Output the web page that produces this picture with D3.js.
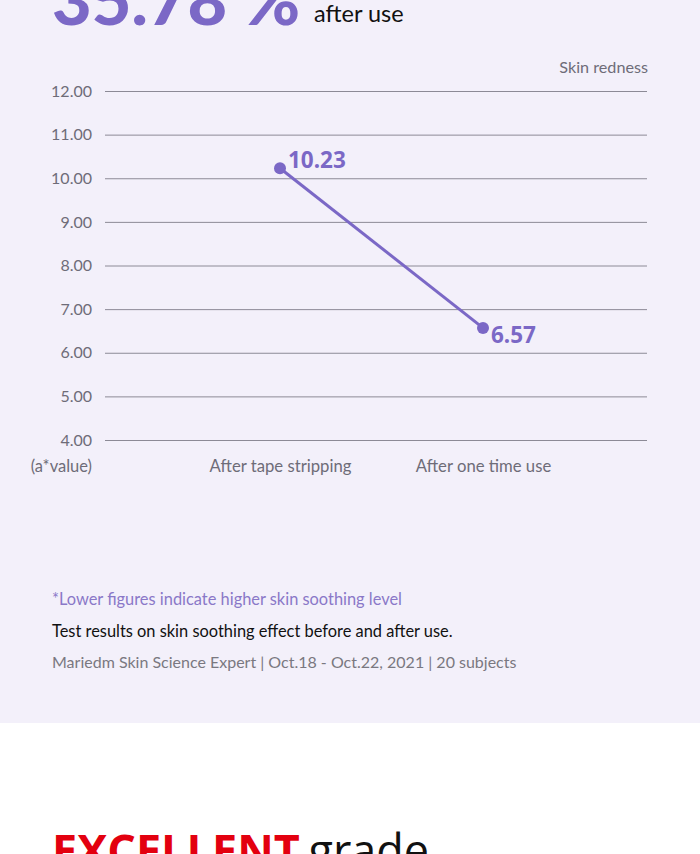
<!DOCTYPE html>
<html>
<head>
<meta charset="utf-8">
<script src="https://cdn.jsdelivr.net/npm/d3@7"></script>
<style>
  html, body { margin: 0; padding: 0; background: #fff; }
  body { width: 700px; height: 854px; overflow: hidden; }
</style>
</head>
<body>
<div id="chart"></div>
<script>
/* skin redness line chart */
const categories = ["After tape stripping", "After one time use"]
const rednessValues = [10.23, 6.57]
const yTicks = [4, 5, 6, 7, 8, 9, 10, 11, 12]
const headline = "35.78 %"
const notes = [
  "*Lower figures indicate higher skin soothing level",
  "Test results on skin soothing effect before and after use.",
  "Mariedm Skin Science Expert | Oct.18 - Oct.22, 2021 | 20 subjects"
]

const width = 700
const height = 854
const marginLeft = 105      // gridline start
const marginRight = 53      // gridline end = width - marginRight
const yTop = 91             // y of 12.00
const yBottom = 440         // y of 4.00
const purple = "#7b68c6"
const gray = "#6e6c78"
const font = "Lato, 'Noto Sans', sans-serif"

const svg = d3.select("#chart")
  .append("svg")
  .attr("width", width)
  .attr("height", height)
  .attr("viewBox", [0, 0, width, height])
  .style("display", "block")

// 背景
svg.append("rect").attr("width", width).attr("height", 723).attr("fill", "#f3f0fa")

// 标题 (cut off at the top)
svg.append("text")
  .attr("x", 52).attr("y", 25)
  .attr("fill", purple)
  .attr("font-family", font)
  .attr("font-weight", 900)
  .attr("font-size", 66)
  .attr("textLength", 248)
  .attr("lengthAdjust", "spacingAndGlyphs")
  .text(headline)
svg.append("text")
  .attr("x", 314).attr("y", 22)
  .attr("fill", "#111")
  .attr("font-family", font)
  .attr("font-size", 23.5)
  .text("after use")

const xScale = d3.scalePoint(categories, [280, 483])
const yScale = d3.scaleLinear([4, 12], [yBottom, yTop])

// Y轴 + gridlines
const yAxis = d3.axisLeft(yScale)
  .tickValues(yTicks)
  .tickFormat(d3.format(".2f"))
  .tickSize(-(width - marginLeft - marginRight))
  .tickPadding(13)

svg.append("g")
  .attr("transform", `translate(${marginLeft},0)`)
  .call(yAxis)
  .call(g => g.select(".domain").remove())
  .call(g => g.selectAll(".tick line").attr("stroke", "#8c8a96").attr("stroke-width", 1))
  .call(g => g.selectAll(".tick text")
    .attr("fill", gray)
    .attr("font-family", font)
    .attr("font-size", 16))

// X轴 labels
const xAxis = d3.axisBottom(xScale).tickSize(0).tickPadding(0)
svg.append("g")
  .attr("transform", `translate(0,${yBottom + 20})`)
  .call(xAxis)
  .call(g => g.select(".domain").remove())
  .call(g => g.selectAll(".tick text")
    .attr("fill", gray)
    .attr("font-family", font)
    .attr("font-size", 16.7))

svg.append("text")
  .attr("x", 92).attr("y", 472)
  .attr("text-anchor", "end")
  .attr("fill", gray)
  .attr("font-family", font)
  .attr("font-size", 16.5)
  .text("(a*value)")

svg.append("text")
  .attr("x", 648).attr("y", 73)
  .attr("text-anchor", "end")
  .attr("fill", gray)
  .attr("font-family", font)
  .attr("font-size", 16.2)
  .text("Skin redness")

// 数据
const points = categories.map((c, i) => [c, rednessValues[i]])
const line = d3.line().x(d => xScale(d[0])).y(d => yScale(d[1]))

svg.append("path")
  .datum(points)
  .attr("fill", "none")
  .attr("stroke", purple)
  .attr("stroke-width", 3)
  .attr("d", line)

svg.append("g").selectAll("circle").data(points).enter()
  .append("circle")
  .attr("cx", d => xScale(d[0]))
  .attr("cy", d => yScale(d[1]))
  .attr("r", 6)
  .attr("fill", purple)

svg.append("g").selectAll("text").data(points).enter()
  .append("text")
  .attr("x", d => xScale(d[0]) + 8)
  .attr("y", (d, i) => yScale(d[1]) + (i === 0 ? 0 : 15))
  .attr("fill", purple)
  .attr("font-family", "'Noto Sans', sans-serif")
  .attr("font-weight", 700)
  .attr("font-size", 22.5)
  .text(d => d3.format(".2f")(d[1]))

// 说明
const noteColors = ["#8a78c8", "#111", "#7a7880"]
svg.append("g").selectAll("text").data(notes).enter()
  .append("text")
  .attr("x", 52)
  .attr("y", (d, i) => 605 + i * 31.5)
  .attr("fill", (d, i) => noteColors[i])
  .attr("font-family", font)
  .attr("font-size", (d, i) => i === 2 ? 16 : 16.4)
  .text(d => d)

// EXCELLENT grade (cut off at bottom)
const bottomTitle = svg.append("text")
  .attr("x", 52).attr("y", 867)
  .attr("font-family", "'Open Sans', sans-serif")
  .attr("font-size", 45)
bottomTitle.append("tspan").attr("fill", "#e3000f").attr("font-weight", 700).text("EXCELLENT")
bottomTitle.append("tspan").attr("fill", "#111").attr("font-weight", 400).attr("dx", -3).text(" grade")
</script>
</body>
</html>
